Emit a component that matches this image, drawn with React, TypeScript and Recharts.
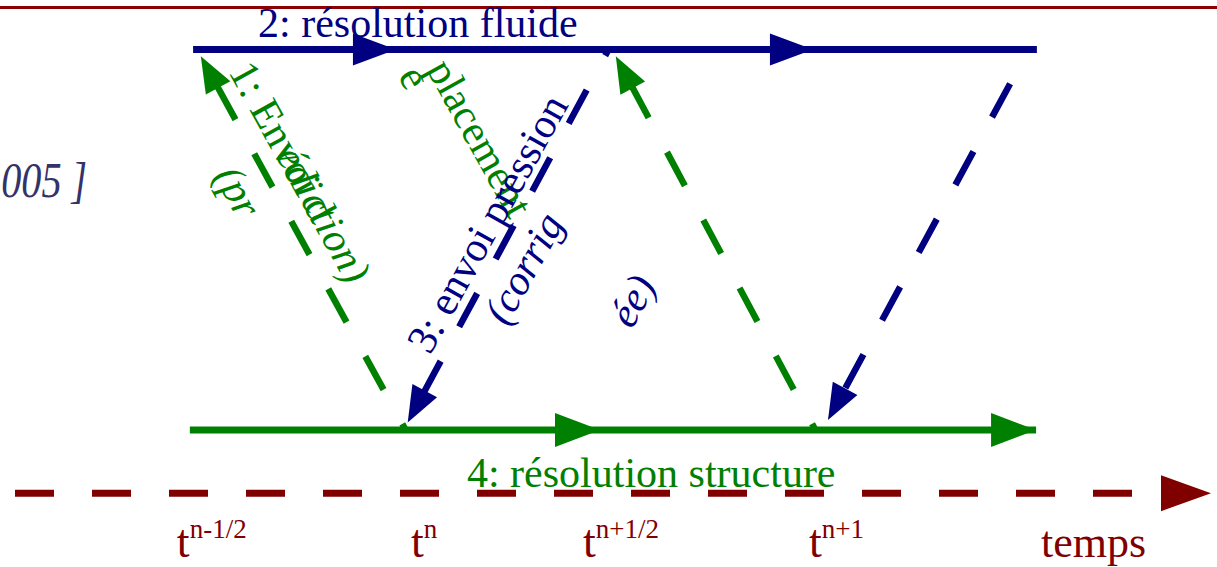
import React from "react";
import {
  ComposedChart,
  Line,
  XAxis,
  YAxis,
  ReferenceLine,
  ReferenceDot,
} from "recharts";

const NAVY = "#000080";
const GREEN = "#008000";
const MAROON = "#800000";
const SERIF = "'Liberation Serif', 'Times New Roman', serif";

// x = time (t^n = 0, one step = 1), y = level (1 = fluide, 0 = structure)
const fluidStops = [-0.524, -0.024, 1.004, 1.556];
const structStops = [-0.532, 0.479, 1.554];
const timeStops = [-0.963, 1.862];
const timeLevel = -0.166;
const frameLevel = 1.11;

// exchanges between the two solvers (start -> arrow tip)
const sendStart = [
  [0, 0],
  [0.5, 1],
  [1.01, 0],
  [1.49, 0.91],
];
const sendEnd = [
  [-0.505, 0.982],
  [0.005, 0.02],
  [0.518, 0.982],
  [1.041, 0.026],
];

const tickTimes = [-0.564, 0.013, 0.437, 0.994];
const tickSups = ["n-1/2", "n", "n+1/2", "n+1"];
const labelLevel = -0.334;
const axisName = "temps";
const axisNameTime = 1.566;

const stepTitles = ["2: résolution fluide", "4: résolution structure"];
const stepTitleAt = [
  [-0.364, 1.034],
  [0.151, -0.15],
];

const sendTexts = [
  "1: Envoi d",
  "(pr",
  "édiction)",
  "e",
  "placement",
  "3: envoi pression",
  "(corrig",
  "ée)",
];
const sendTextAt = [
  [-0.438, 0.942],
  [-0.474, 0.668],
  [-0.322, 0.721],
  [-0.02, 0.93],
  [0.05, 0.948],
  [0.06, 0.195],
  [0.25, 0.271],
  [0.558, 0.263],
];
const sendTextAngle = [61, 61, 61, 61, 61, -61, -61, -61];
const sendTextItalic = [false, true, true, false, false, false, true, true];
const sendTextColor = [GREEN, GREEN, GREEN, GREEN, GREEN, NAVY, NAVY, NAVY];
const sendColor = [GREEN, NAVY, GREEN, NAVY];
const sendDashOffset = [31, 31, 31, 0];

const citeText = "005 ]";
const citeAt = [-0.997, 0.612];

const toRows = (stops: number[], level: number) => stops.map((t) => ({ t, y: level }));

// dashed line with a filled head at its end
const Arrow = (p: any, color: string, offset: number) => {
  const { x1, y1, x2, y2 } = p;
  const dx = x2 - x1;
  const dy = y2 - y1;
  const len = Math.hypot(dx, dy) || 1;
  const ux = dx / len;
  const uy = dy / len;
  const head = 36;
  const half = 14;
  const bx = x2 - ux * head;
  const by = y2 - uy * head;
  return (
    <g>
      <line
        x1={x1}
        y1={y1}
        x2={bx + ux * 2}
        y2={by + uy * 2}
        stroke={color}
        strokeWidth={6.5}
        strokeDasharray="38 39"
        strokeDashoffset={offset}
      />
      <polygon
        points={`${x2},${y2} ${bx - uy * half},${by + ux * half} ${bx + uy * half},${by - ux * half}`}
        fill={color}
      />
    </g>
  );
};

const rightHead = (cx: number, cy: number, color: string, len: number, half: number, fromBase = false) => {
  const tip = fromBase ? cx + len : cx;
  const base = tip - len;
  return (
    <polygon
      points={`${tip},${cy} ${base},${cy - half} ${base},${cy + half}`}
      fill={color}
    />
  );
};

export default function App() {
  return (
    <div style={{ width: 1217, height: 567, background: "#fff" }}>
      <style>{`body{margin:0;}`}</style>
      <ComposedChart
        width={1217}
        height={567}
        margin={{ top: 0, right: 0, bottom: 0, left: 0 }}
      >
        <XAxis dataKey="t" type="number" domain={[-1, 2]} allowDataOverflow hide />
        <YAxis type="number" domain={[-0.36, 1.13]} allowDataOverflow hide />

        <ReferenceLine y={frameLevel} stroke="#8b0000" strokeWidth={3} ifOverflow="visible" />

        <Line
          data={toRows(timeStops, timeLevel)}
          dataKey="y"
          stroke={MAROON}
          strokeWidth={7}
          strokeDasharray="39 38"
          isAnimationActive={false}
          dot={(d: any) =>
            d.index === timeStops.length - 1 ? (
              <g key={`ta${d.index}`}>{rightHead(d.cx, d.cy, MAROON, 50, 18, true)}</g>
            ) : (
              <g key={`ta${d.index}`} />
            )
          }
          activeDot={false}
        />

        <Line
          data={toRows(fluidStops, 1)}
          dataKey="y"
          stroke={NAVY}
          strokeWidth={7}
          isAnimationActive={false}
          dot={(d: any) =>
            d.index === 1 || d.index === 2 ? (
              <g key={`fl${d.index}`}>{rightHead(d.cx, d.cy, NAVY, 43, 16)}</g>
            ) : (
              <g key={`fl${d.index}`} />
            )
          }
          activeDot={false}
        />

        <Line
          data={toRows(structStops, 0)}
          dataKey="y"
          stroke={GREEN}
          strokeWidth={7}
          isAnimationActive={false}
          dot={(d: any) =>
            d.index >= 1 ? (
              <g key={`st${d.index}`}>{rightHead(d.cx, d.cy, GREEN, 45, 17)}</g>
            ) : (
              <g key={`st${d.index}`} />
            )
          }
          activeDot={false}
        />

        {sendStart.map((s, i) => (
          <ReferenceLine
            key={`send${i}`}
            segment={[
              { x: s[0], y: s[1] },
              { x: sendEnd[i][0], y: sendEnd[i][1] },
            ]}
            ifOverflow="visible"
            shape={(p: any) => Arrow(p, sendColor[i], sendDashOffset[i])}
          />
        ))}

        {stepTitles.map((s, i) => (
          <ReferenceDot
            key={`title${i}`}
            x={stepTitleAt[i][0]}
            y={stepTitleAt[i][1]}
            r={0}
            ifOverflow="visible"
            shape={(p: any) => (
              <text x={p.cx} y={p.cy} fontFamily={SERIF} fontSize={42} fill={i === 0 ? NAVY : GREEN}>
                {s}
              </text>
            )}
          />
        ))}

        {sendTexts.map((s, i) => (
          <ReferenceDot
            key={`stxt${i}`}
            x={sendTextAt[i][0]}
            y={sendTextAt[i][1]}
            r={0}
            ifOverflow="visible"
            shape={(p: any) => (
              <text
                x={p.cx}
                y={p.cy}
                transform={`rotate(${sendTextAngle[i]} ${p.cx} ${p.cy})`}
                fontFamily={SERIF}
                fontSize={42}
                fontStyle={sendTextItalic[i] ? "italic" : "normal"}
                fill={sendTextColor[i]}
              >
                {s}
              </text>
            )}
          />
        ))}

        {tickTimes.map((t, i) => (
          <ReferenceDot
            key={`tick${i}`}
            x={t}
            y={labelLevel}
            r={0}
            ifOverflow="visible"
            shape={(p: any) => (
              <text x={p.cx} y={p.cy} fontFamily={SERIF} fill={MAROON} fontSize={46}>
                <tspan>t</tspan>
                <tspan dy={-19} fontSize={27}>
                  {tickSups[i]}
                </tspan>
              </text>
            )}
          />
        ))}

        <ReferenceDot
          x={axisNameTime}
          y={labelLevel}
          r={0}
          ifOverflow="visible"
          shape={(p: any) => (
            <text x={p.cx} y={p.cy} fontFamily={SERIF} fill={MAROON} fontSize={44}>
              {axisName}
            </text>
          )}
        />

        <ReferenceDot
          x={citeAt[0]}
          y={citeAt[1]}
          r={0}
          ifOverflow="visible"
          shape={(p: any) => (
            <text
              x={p.cx}
              y={p.cy}
              fontFamily={SERIF}
              fontStyle="italic"
              fontSize={50}
              fill="#33336a"
              textLength={86}
              lengthAdjust="spacingAndGlyphs"
            >
              {citeText}
            </text>
          )}
        />
      </ComposedChart>
    </div>
  );
}
